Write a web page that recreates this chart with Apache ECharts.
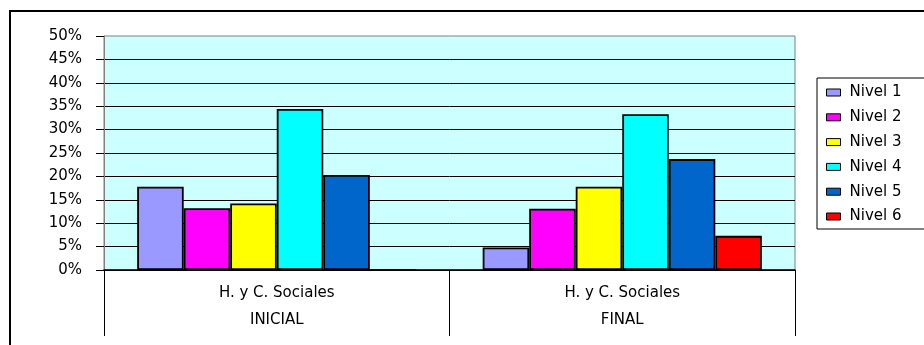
<!DOCTYPE html>
<html>
<head>
<meta charset="utf-8">
<script src="https://cdn.jsdelivr.net/npm/echarts@6/dist/echarts.min.js"></script>
<style>
  html, body { margin: 0; padding: 0; background: #fff; }
  #chart { width: 924px; height: 345px; }
</style>
</head>
<body>
<div id="chart"></div>
<script>
// Grouped results per level, before and after
const periods = ['INICIAL', 'FINAL'];
const subject = 'H. y C. Sociales';
const levels = ['Nivel 1', 'Nivel 2', 'Nivel 3', 'Nivel 4', 'Nivel 5', 'Nivel 6'];
const inicial = [17.8, 13.2, 14.2, 34.4, 20.3, 0];
const final = [4.8, 13.1, 17.8, 33.3, 23.7, 7.3];
const levelColors = ['#9999FF', '#FF00FF', '#FFFF00', '#00FFFF', '#0066CC', '#FF0000'];

const FONT = 'DejaVu Sans';
const FONT_SIZE = 15;

const chart = echarts.init(document.getElementById('chart'));

const series = levels.map((name, i) => ({
  name: name,
  type: 'bar',
  barGap: '0%',
  barCategoryGap: '19.2%',
  data: [inicial[i], final[i]],
  itemStyle: {
    color: levelColors[i],
    borderColor: '#000',
    borderWidth: 1.8
  },
  emphasis: { disabled: true }
}));

chart.setOption({
  animation: false,
  backgroundColor: '#fff',
  textStyle: { fontFamily: FONT },
  graphic: [{
    type: 'rect',
    shape: { x: 10, y: 11, width: 1000, height: 1000 },
    style: { fill: 'none', stroke: '#000', lineWidth: 2 },
    silent: true
  }],
  grid: {
    left: 104,
    top: 36,
    right: 129,
    bottom: 75,
    show: true,
    backgroundColor: '#CCFFFF',
    borderColor: '#808080',
    borderWidth: 1
  },
  legend: {
    orient: 'vertical',
    left: 817,
    top: 78,
    data: levels,
    itemWidth: 14,
    itemHeight: 7,
    itemGap: 9.8,
    padding: [7, 60, 5, 9],
    borderColor: '#000',
    borderWidth: 1,
    backgroundColor: '#fff',
    icon: 'rect',
    itemStyle: { borderColor: '#000', borderWidth: 1 },
    textStyle: { fontFamily: FONT, fontSize: FONT_SIZE, color: '#000', padding: [0, 0, 0, 4] }
  },
  xAxis: [{
    type: 'category',
    data: periods,
    position: 'bottom',
    axisLine: { show: true, lineStyle: { color: '#000', width: 1.5 } },
    axisTick: { show: true, length: 66, lineStyle: { color: '#000', width: 1 } },
    axisLabel: {
      formatter: () => subject,
      margin: 16,
      fontFamily: FONT,
      fontSize: FONT_SIZE,
      color: '#000'
    }
  }, {
    type: 'category',
    data: periods,
    position: 'bottom',
    offset: 27,
    axisLine: { show: false },
    axisTick: { show: false },
    axisLabel: {
      margin: 16,
      fontFamily: FONT,
      fontSize: FONT_SIZE,
      color: '#000'
    }
  }],
  yAxis: {
    type: 'value',
    min: 0,
    max: 50,
    interval: 5,
    axisLine: { show: true, lineStyle: { color: '#808080', width: 1 } },
    axisTick: { show: true, length: 8, lineStyle: { color: '#000' } },
    axisLabel: {
      formatter: '{value}%',
      margin: 22,
      fontFamily: FONT,
      fontSize: FONT_SIZE,
      color: '#000'
    },
    splitLine: {
      show: true,
      showMaxLine: false,
      lineStyle: { color: '#000', width: 1 }
    }
  },
  series: series
});
</script>
</body>
</html>
